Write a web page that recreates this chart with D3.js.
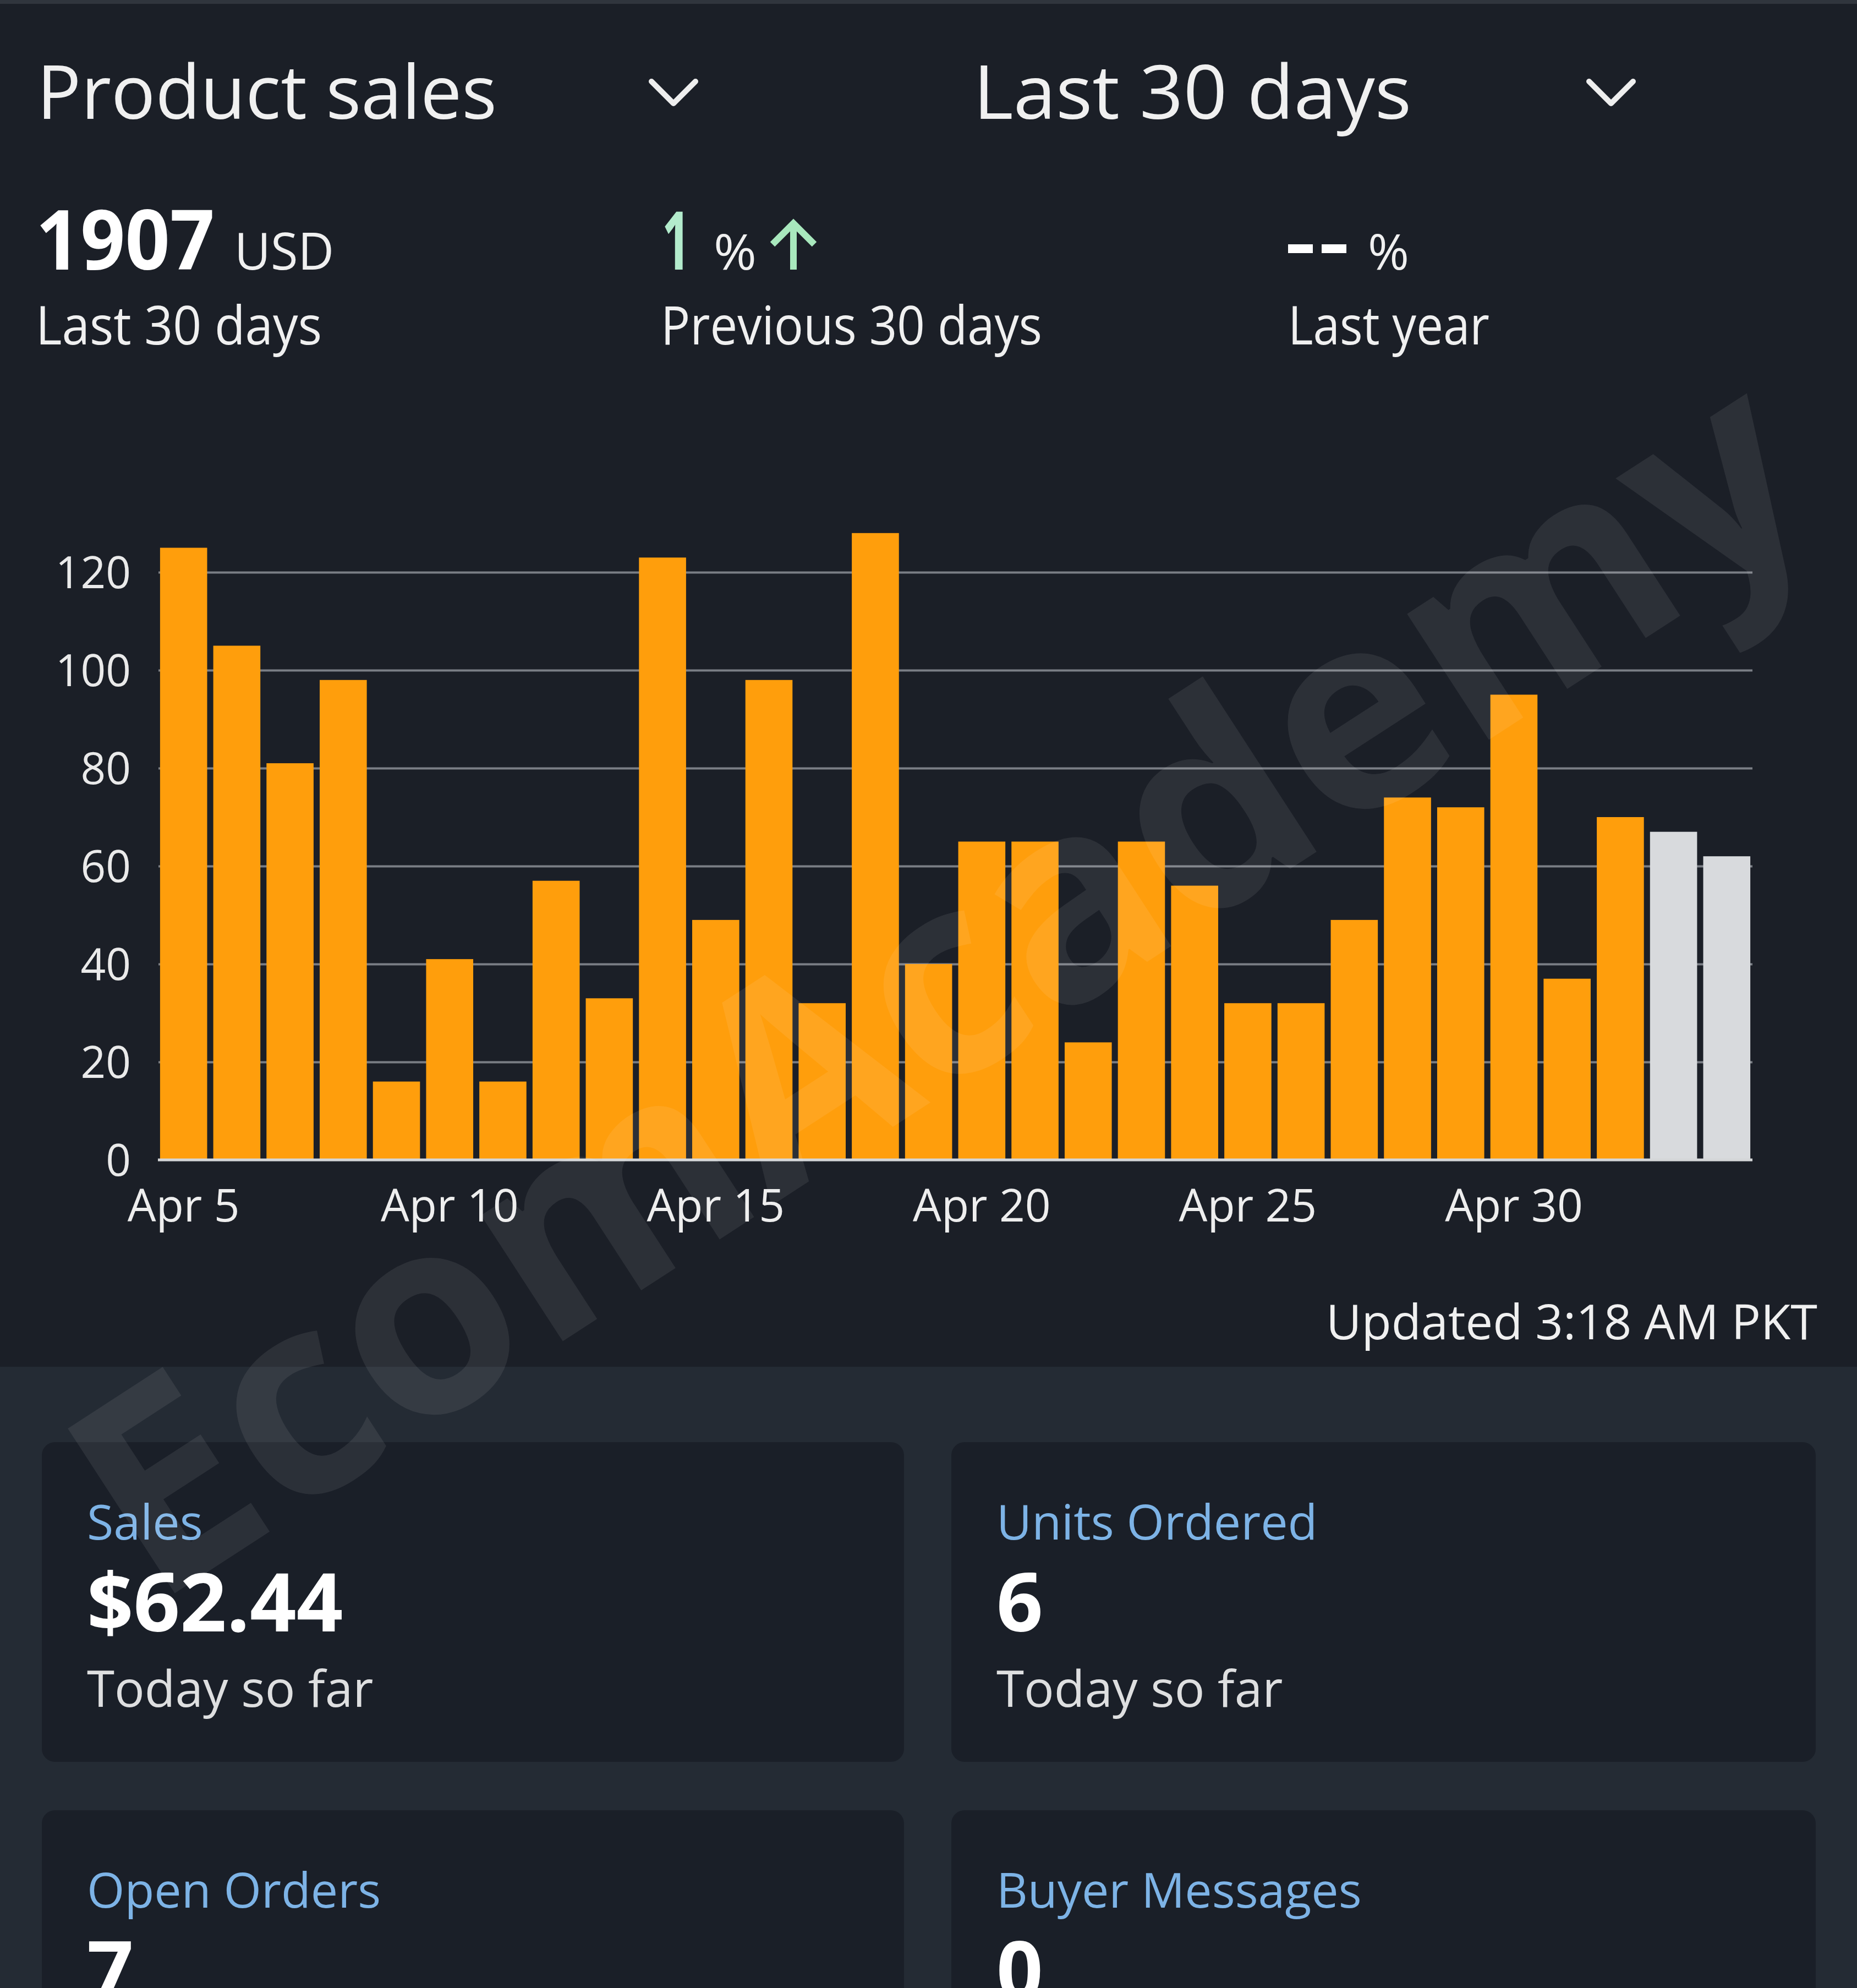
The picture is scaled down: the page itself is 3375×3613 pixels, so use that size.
<!DOCTYPE html>
<html><head><meta charset="utf-8">
<script src="https://cdn.jsdelivr.net/npm/d3@7"></script>
<style>html,body{margin:0;padding:0;background:#1b1f27;overflow:hidden} svg{display:block}</style>
</head><body>
<script>
// ---------- data ----------
const days = ["Apr 5","Apr 6","Apr 7","Apr 8","Apr 9","Apr 10","Apr 11","Apr 12","Apr 13","Apr 14",
  "Apr 15","Apr 16","Apr 17","Apr 18","Apr 19","Apr 20","Apr 21","Apr 22","Apr 23","Apr 24",
  "Apr 25","Apr 26","Apr 27","Apr 28","Apr 29","Apr 30","May 1","May 2","May 3","May 4"];
const sales = [125,105,81,98,16,41,16,57,33,123,49,98,32,128,40,65,65,24,65,56,32,32,49,74,72,95,37,70,67,62];
const pendingDays = ["May 3","May 4"];
const yTicks = [0,20,40,60,80,100,120];
const xTickLabels = ["Apr 5","Apr 10","Apr 15","Apr 20","Apr 25","Apr 30"];
const cardTitles = ["Sales","Units Ordered","Open Orders","Buyer Messages"];
const cardValues = ["$62.44","6","7","0"];
const cardNotes = ["Today so far","Today so far","",""];

// ---------- setup ----------
const W = 3375, H = 3613;
const svg = d3.select("body").append("svg").attr("width", W).attr("height", H);
const FONT = "'Open Sans','Noto Sans',sans-serif";

svg.append("rect").attr("width", W).attr("height", H).attr("fill", "#1b1f27");
svg.append("rect").attr("width", W).attr("height", 7).attr("fill", "#30353d");
svg.append("rect").attr("y", 2484).attr("width", W).attr("height", H - 2484).attr("fill", "#242b34");

function fit(sel, w) { return sel.attr("textLength", w).attr("lengthAdjust", "spacingAndGlyphs"); }
function txt(x, y, s, size, opts = {}) {
  const t = svg.append("text").attr("x", x).attr("y", y).text(s)
    .attr("font-family", FONT).attr("font-size", size)
    .attr("font-weight", opts.weight || 400)
    .attr("fill", opts.fill || "#f0f0f0")
    .attr("text-anchor", opts.anchor || "start");
  if (opts.width) fit(t, opts.width);
  return t;
}

// ---------- header ----------
txt(67, 216, "Product sales", 136, {width: 836});
txt(1769, 216, "Last 30 days", 136, {width: 796});
const chev = (cx) => svg.append("path")
  .attr("d", `M${cx-40},${148} L${cx},${188} L${cx+40},${148}`)
  .attr("fill", "none").attr("stroke", "#eeeeee").attr("stroke-width", 10)
  .attr("stroke-linecap", "round").attr("stroke-linejoin", "round");
chev(1224); chev(2928);

txt(65, 490, "1907", 150, {weight: 700, width: 325, fill: "#ffffff"});
txt(426, 490, "USD", 94, {width: 181});
txt(65, 626, "Last 30 days", 97, {width: 520});

txt(1203, 490, "1", 148, {weight: 700, fill: "#b3ebcc", width: 52});
txt(1297, 490, "%", 90, {width: 78});
svg.append("path")
  .attr("d", "M1442,490 L1442,410 M1404,444 L1442,406 L1480,444")
  .attr("fill", "none").attr("stroke", "#a8e8bd").attr("stroke-width", 12)
  .attr("stroke-linecap", "butt").attr("stroke-linejoin", "miter");
txt(1201, 626, "Previous 30 days", 97, {width: 693});

svg.append("path").attr("d", "M2341,452 L2386,452 M2402,452 L2447,452")
  .attr("stroke", "#ffffff").attr("stroke-width", 16);
txt(2486, 490, "%", 90, {width: 75});
txt(2341, 626, "Last year", 97, {width: 366});

// ---------- chart ----------
const x = d3.scaleBand().domain(days).range([288, 3184]).paddingInner(0.115).paddingOuter(0.03);
const y = d3.scaleLinear().domain([0, 120]).range([2108, 1040]);

const gy = svg.append("g").attr("transform", "translate(288,0)")
  .call(d3.axisLeft(y).tickValues(yTicks).tickSize(-(3185 - 288)).tickPadding(50));
gy.select(".domain").remove();
gy.selectAll(".tick line").attr("stroke", "#7a7e85").attr("stroke-width", 4)
  .attr("display", d => d === 0 ? "none" : null);
gy.selectAll(".tick text").attr("font-family", FONT).attr("font-size", 80)
  .attr("fill", "#eaeaea").attr("dy", "0.36em");

svg.append("g").selectAll("rect").data(days).join("rect")
  .attr("x", d => x(d)).attr("width", x.bandwidth())
  .attr("y", (d, i) => y(sales[i])).attr("height", (d, i) => y(0) - y(sales[i]))
  .attr("fill", d => pendingDays.includes(d) ? "#d8dadd" : "#ff9e0c");

svg.append("line").attr("x1", 287).attr("x2", 3185).attr("y1", y(0)).attr("y2", y(0))
  .attr("stroke", "#d4d6d8").attr("stroke-width", 5);

const gx = svg.append("g").attr("transform", `translate(0,${y(0)})`)
  .call(d3.axisBottom(x).tickValues(xTickLabels).tickSize(0).tickPadding(0));
gx.select(".domain").remove();
gx.selectAll(".tick text").attr("font-family", FONT).attr("font-size", 82)
  .attr("fill", "#eeeeee").attr("dy", null).attr("y", 112);

txt(3303, 2434, "Updated 3:18 AM PKT", 88, {anchor: "end", width: 893});

// ---------- cards ----------
const cardX = [76, 1729], cardW = [1567, 1571];
const rowY = [2621, 3290], rowH = [581, 500];
cardTitles.forEach((t, i) => {
  const c = i % 2, r = Math.floor(i / 2);
  svg.append("rect").attr("x", cardX[c]).attr("y", rowY[r]).attr("width", cardW[c]).attr("height", rowH[r])
    .attr("rx", 24).attr("fill", "#1a1f28");
  const tx = cardX[c] + 82;
  const base = rowY[r];
  txt(tx, base + 177, t, 88, {fill: "#7db3e6"});
  txt(tx, base + 344, cardValues[i], 148, {weight: 700, fill: "#ffffff"});
  if (cardNotes[i]) txt(tx, base + 481, cardNotes[i], 91, {fill: "#dedfe0"});
});

// ---------- watermark ----------
svg.append("text").attr("transform", "translate(280,2920) rotate(-33)")
  .text("EcomAcademy").attr("font-family", FONT).attr("font-weight", 700)
  .attr("font-size", 500).attr("fill", "#ffffff").attr("fill-opacity", 0.08);
</script>
</body></html>
